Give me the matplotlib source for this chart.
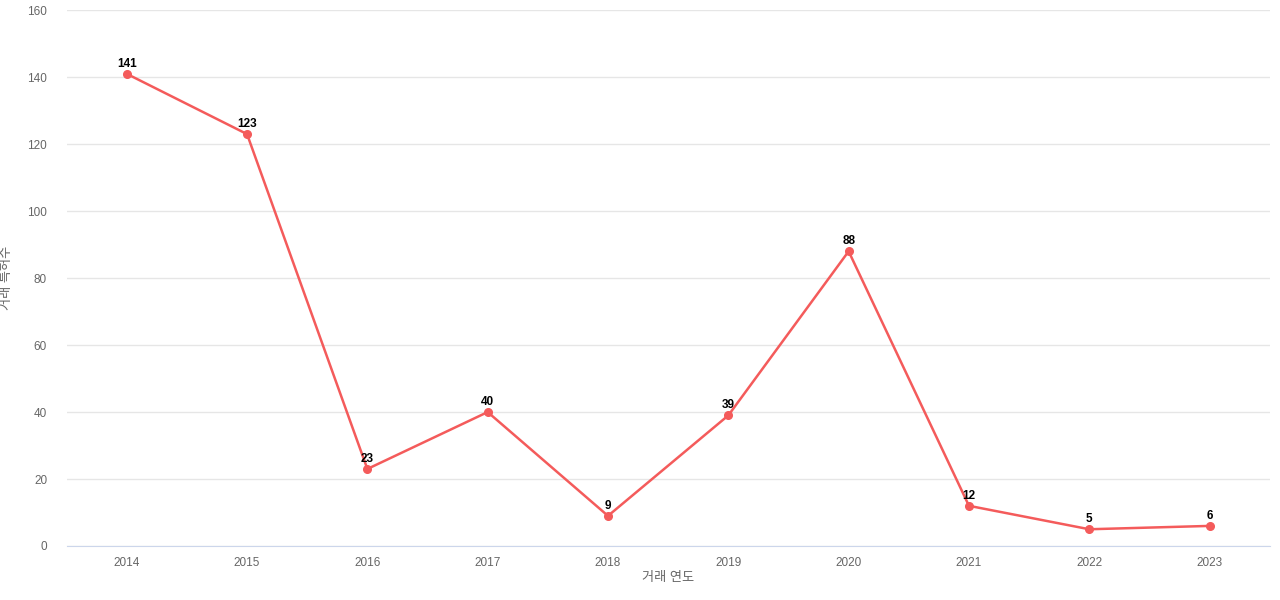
import matplotlib.pyplot as plt

plt.rcParams['font.family'] = ['Liberation Sans', 'Noto Sans CJK KR', 'DejaVu Sans']

years = ['2014', '2015', '2016', '2017', '2018', '2019', '2020', '2021', '2022', '2023']
counts = [141, 123, 23, 40, 9, 39, 88, 12, 5, 6]

fig, ax = plt.subplots(figsize=(12.8, 6), dpi=100)
fig.subplots_adjust(left=0.052, right=0.992, top=0.983, bottom=0.09)

x = range(len(years))
ax.plot(x, counts, color='#f45b5b', linewidth=1.8, marker='o', markersize=5.5, zorder=3)
for xi, v in zip(x, counts):
    ax.annotate(str(v), (xi, v), xytext=(0, 3), textcoords='offset points',
                ha='center', va='bottom', fontsize=8.5, fontweight='bold', color='black')

ax.set_xlim(-0.5, len(years) - 0.5)
ax.set_ylim(0, 160)
ax.set_yticks(range(0, 161, 20))
ax.set_xticks(list(x))
ax.set_xticklabels(years)
ax.grid(axis='y', color='#e6e6e6', linewidth=1)
ax.set_axisbelow(True)
for s in ['top', 'right', 'left']:
    ax.spines[s].set_visible(False)
ax.spines['bottom'].set_color('#ccd6eb')
ax.tick_params(axis='both', length=0, labelsize=8.5, labelcolor='#666666')
ax.tick_params(axis='x', pad=8)
ax.tick_params(axis='y', pad=14)
ax.set_xlabel('거래 연도', fontsize=9.5, color='#666666', labelpad=2)
ax.set_ylabel('거래 특허수', fontsize=9.5, color='#666666', labelpad=10)

fig.savefig('out.png')
